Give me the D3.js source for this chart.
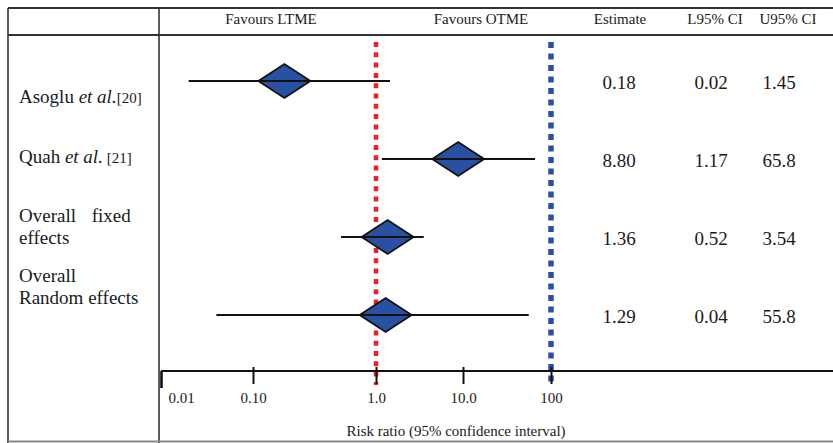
<!DOCTYPE html>
<html>
<head>
<meta charset="utf-8">
<script src="https://cdn.jsdelivr.net/npm/d3@7"></script>
<style>
  html, body { margin: 0; padding: 0; background: #fff; }
  svg { display: block; }
  text { font-family: "Liberation Serif", "Times New Roman", serif; fill: #1a1a1a; }
</style>
</head>
<body>
<svg id="chart" width="833" height="443"></svg>
<script>
// Study rows of the forest plot
const studies   = ["Asoglu", "Quah", "Overall fixed", "Overall random"];
const estimates = [0.18, 8.80, 1.36, 1.29];
const lower95   = [0.02, 1.17, 0.52, 0.04];
const upper95   = [1.45, 65.8, 3.54, 55.8];
const estimateText = ["0.18", "8.80", "1.36", "1.29"];
const lowerText    = ["0.02", "1.17", "0.52", "0.04"];
const upperText    = ["1.45", "65.8", "3.54", "55.8"];

// Axis ticks
const tickValues = [0.01, 0.1, 1, 10, 100];
const tickLabels = ["0.01", "0.10", "1.0", "10.0", "100"];

// Reference lines: no effect (RR = 1) and the far bound (RR = 100)
const refLines = [1, 100];
const refColors = ["#ee2027", "#2a4fa6"];

const W = 833, H = 443;
const svg = d3.select("#chart");

// Log scale with uneven decade spacing along the axis
const x = d3.scaleLog()
  .domain(tickValues)
  .range([161, 253, 376, 463, 551]);

const y = d3.scalePoint().domain(d3.range(studies.length)).range([81, 315]);
const labelY = d3.scalePoint().domain(d3.range(studies.length)).range([103, 282]);

const rows = studies.map((s, i) => ({
  name: s, est: estimates[i], lo: lower95[i], hi: upper95[i],
  estT: estimateText[i], loT: lowerText[i], hiT: upperText[i], i
}));

// ---- Table frame ----
const frame = svg.append("g").attr("stroke", "#333").attr("fill", "none");
frame.append("line").attr("x1", 8).attr("x2", W).attr("y1", 8).attr("y2", 8).attr("stroke-width", 2);
frame.append("line").attr("x1", 8).attr("x2", W).attr("y1", 35).attr("y2", 35).attr("stroke-width", 2);
frame.append("line").attr("x1", 8).attr("x2", 8).attr("y1", 8).attr("y2", H).attr("stroke-width", 1.6);
frame.append("line").attr("x1", 159).attr("x2", 159).attr("y1", 8).attr("y2", H).attr("stroke-width", 1.6);
frame.append("line").attr("x1", 8).attr("x2", W).attr("y1", 441.5).attr("y2", 441.5)
  .attr("stroke", "#888").attr("stroke-width", 2);

// ---- Header ----
const header = svg.append("g").attr("font-size", 15).attr("text-anchor", "middle");
[["Favours LTME", 271], ["Favours OTME", 481], ["Estimate", 620], ["L95% CI", 715], ["U95% CI", 788]]
  .forEach(([t, cx]) => header.append("text").attr("x", cx).attr("y", 24).text(t));

// ---- Reference lines ----
svg.append("g").selectAll("line").data(refLines).join("line")
  .attr("x1", d => x(d)).attr("x2", d => x(d))
  .attr("y1", 42).attr("y2", 385)
  .attr("stroke", (d, i) => refColors[i])
  .attr("stroke-width", (d, i) => i === 0 ? 4.5 : 5.5)
  .attr("stroke-dasharray", (d, i) => i === 0 ? "5,5.3" : "6,5.5");

// ---- Diamonds and confidence intervals ----
const dw = 26, dh = 17;
const marks = svg.append("g");
marks.selectAll("path.diamond").data(rows).join("path")
  .attr("class", "diamond")
  .attr("d", d => {
    const cx = x(d.est), cy = y(d.i);
    return `M${cx - dw},${cy}L${cx},${cy - dh}L${cx + dw},${cy}L${cx},${cy + dh}Z`;
  })
  .attr("fill", "#2851a3").attr("stroke", "#111").attr("stroke-width", 1.8)
  .attr("stroke-linejoin", "miter");
marks.selectAll("line.ci").data(rows).join("line")
  .attr("class", "ci")
  .attr("x1", d => x(d.lo)).attr("x2", d => x(d.hi))
  .attr("y1", d => y(d.i)).attr("y2", d => y(d.i))
  .attr("stroke", "#111").attr("stroke-width", 1.8);

// ---- Value columns ----
const vals = svg.append("g").attr("font-size", 19).attr("text-anchor", "middle");
[["estT", 619], ["loT", 711], ["hiT", 779]].forEach(([k, cx]) => {
  vals.selectAll(null).data(rows).join("text")
    .attr("x", cx).attr("y", d => y(d.i) + 8).text(d => d[k]);
});

// ---- Study labels ----
const lab = svg.append("g").attr("font-size", 19);
function studyLabel(i, author, ref, gap) {
  const t = lab.append("text").attr("x", 19).attr("y", labelY(i));
  t.append("tspan").text(author + " ");
  t.append("tspan").attr("font-style", "italic").text("et al.");
  t.append("tspan").attr("font-size", 15).text(gap + ref);
}
studyLabel(0, "Asoglu", "[20]", "");
studyLabel(1, "Quah", "[21]", " ");
function twoLine(i, a, b, ws) {
  const t = lab.append("text").attr("x", 19).attr("y", labelY(i));
  t.append("tspan").attr("x", 19).attr("word-spacing", ws).text(a);
  t.append("tspan").attr("x", 19).attr("dy", 22).text(b);
}
twoLine(2, "Overall fixed", "effects", 11);
twoLine(3, "Overall", "Random effects", 0);

// ---- Axis ----
const axisY = 371;
const axis = d3.axisBottom(x)
  .tickValues(tickValues)
  .tickFormat((d, i) => tickLabels[i])
  .tickSize(13)
  .tickSizeOuter(0);
const ag = svg.append("g").attr("transform", `translate(0,${axisY})`).call(axis);
ag.select(".domain").remove();
ag.selectAll(".tick line").attr("y1", -4).attr("stroke", "#111").attr("stroke-width", 2);
ag.selectAll(".tick text")
  .attr("y", 32).attr("dy", 0)
  .attr("font-family", "Liberation Serif, Times New Roman, serif")
  .attr("font-size", 15).attr("fill", "#1a1a1a");
// The first tick marks the left end of the axis; its label sits inside the frame
ag.selectAll(".tick").filter((d, i) => i === 0).each(function () {
  const g = d3.select(this);
  g.select("line").attr("y1", 0).attr("y2", 17).attr("stroke-width", 2.6);
  g.select("text").attr("text-anchor", "start").attr("dx", 7);
});
svg.append("line")
  .attr("x1", x(tickValues[0])).attr("x2", W)
  .attr("y1", axisY).attr("y2", axisY)
  .attr("stroke", "#111").attr("stroke-width", 2.2);

svg.append("text").attr("x", 456).attr("y", 436)
  .attr("font-size", 15).attr("text-anchor", "middle")
  .text("Risk ratio (95% confidence interval)");
</script>
</body>
</html>
